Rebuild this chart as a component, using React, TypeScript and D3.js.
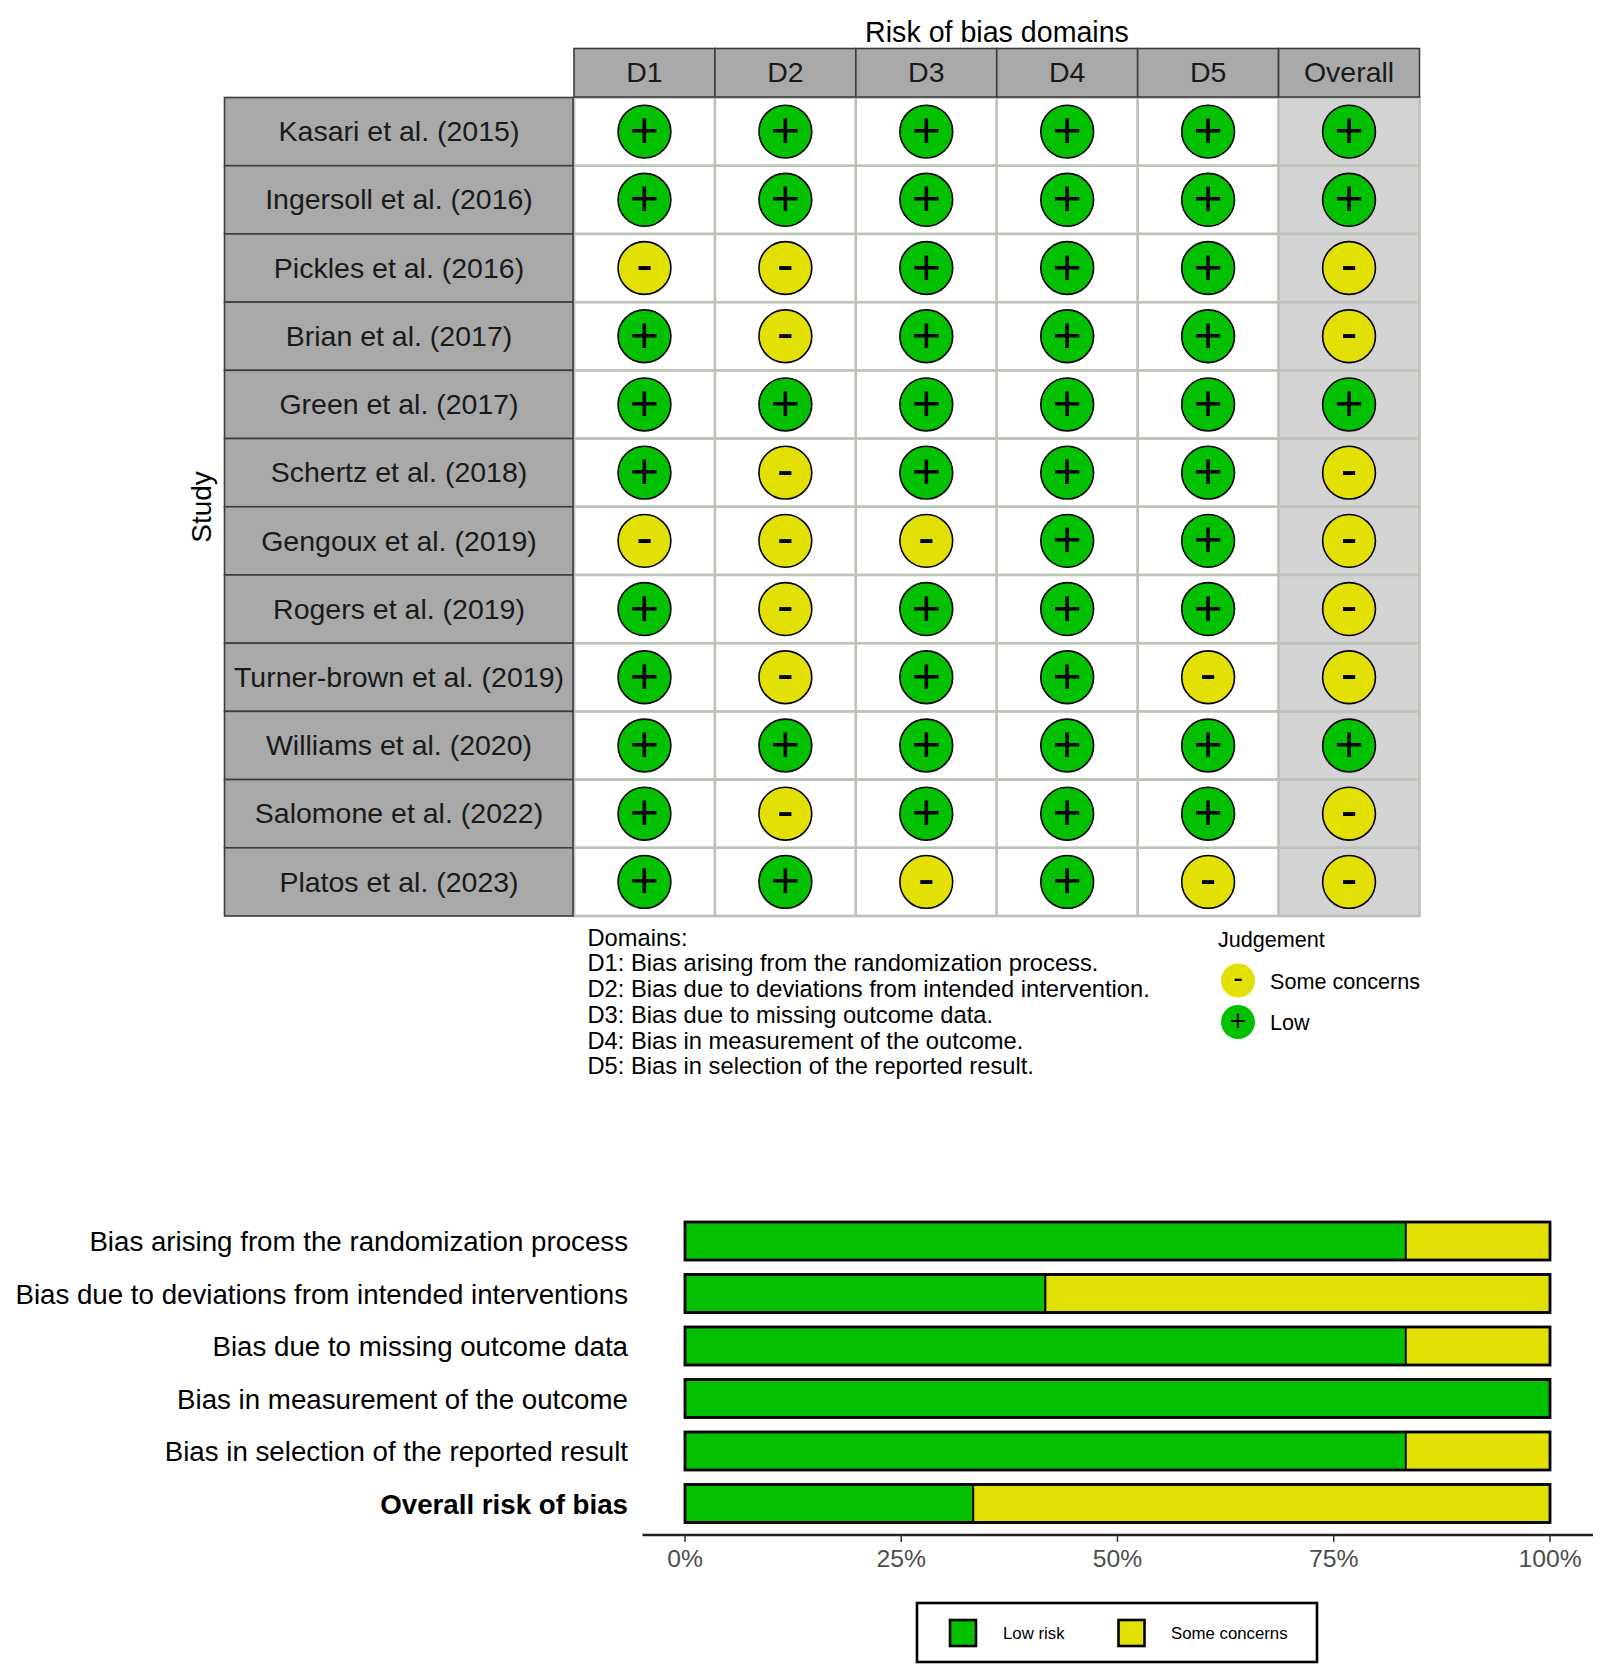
import * as d3 from 'd3';

const FONT = '"Liberation Sans", Arial, sans-serif';
const GREEN = '#03C000';
const YELLOW = '#E3E006';

// traffic light table
const domains = ['D1', 'D2', 'D3', 'D4', 'D5', 'Overall'];
const studies = [
    'Kasari et al. (2015)',
    'Ingersoll et al. (2016)',
    'Pickles et al. (2016)',
    'Brian et al. (2017)',
    'Green et al. (2017)',
    'Schertz et al. (2018)',
    'Gengoux et al. (2019)',
    'Rogers et al. (2019)',
    'Turner-brown et al. (2019)',
    'Williams et al. (2020)',
    'Salomone et al. (2022)',
    'Platos et al. (2023)',
];
// one string per study, one char per domain
const judgements = [
    '++++++',
    '++++++',
    '--+++-',
    '+-+++-',
    '++++++',
    '+-+++-',
    '---++-',
    '+-+++-',
    '+-++--',
    '++++++',
    '+-+++-',
    '++-+--',
];
const domainNotes = [
    'Domains:',
    'D1: Bias arising from the randomization process.',
    'D2: Bias due to deviations from intended intervention.',
    'D3: Bias due to missing outcome data.',
    'D4: Bias in measurement of the outcome.',
    'D5: Bias in selection of the reported result.',
];

// summary bars
const summaryLabels = [
    'Bias arising from the randomization process',
    'Bias due to deviations from intended interventions',
    'Bias due to missing outcome data',
    'Bias in measurement of the outcome',
    'Bias in selection of the reported result',
    'Overall risk of bias',
];
const lowRisk = [83.33, 41.67, 83.33, 100, 83.33, 33.33];
const someConcerns = [16.67, 58.33, 16.67, 0, 16.67, 66.67];
const pctTicks = [0, 25, 50, 75, 100];

const Symbol = ({ cx, cy, mark, size }: { cx: number; cy: number; mark: string; size: number }) => (
    <text
        x={cx}
        y={cy + (mark === '+' ? size * 0.31 : size * 0.26)}
        textAnchor="middle"
        fontSize={size}
        fill="#000"
    >
        {mark}
    </text>
);

const TrafficLight = () => {
    const xScale = d3.scaleBand().domain(domains).range([574, 1419.5]);
    const yScale = d3.scaleBand().domain(studies).range([97.5, 916]);
    const overallX = xScale('Overall') ?? 0;

    return (
        <g>
            <text x={997} y={42} textAnchor="middle" fontSize={28.6} fill="#000">
                Risk of bias domains
            </text>

            {/* panel */}
            <rect x={overallX} y={97.5} width={xScale.bandwidth()} height={818.5} fill="#D3D3D3" />
            {studies.map((s) => (
                <rect
                    key={s}
                    x={574}
                    y={yScale(s)}
                    width={845.5}
                    height={yScale.bandwidth()}
                    fill="none"
                    stroke="#BCC3B8"
                    strokeWidth={2.4}
                />
            ))}
            {domains.map((d) => (
                <rect
                    key={d}
                    x={xScale(d)}
                    y={97.5}
                    width={xScale.bandwidth()}
                    height={818.5}
                    fill="none"
                    stroke="#BCC3B8"
                    strokeWidth={2.4}
                />
            ))}

            {/* top strips */}
            {domains.map((d) => (
                <g key={d}>
                    <rect
                        x={xScale(d)}
                        y={48.5}
                        width={xScale.bandwidth()}
                        height={48.5}
                        fill="#A9A9A9"
                        stroke="#3C3C3C"
                        strokeWidth={1.6}
                    />
                    <text
                        x={(xScale(d) ?? 0) + xScale.bandwidth() / 2}
                        y={72.2}
                        dy="0.35em"
                        textAnchor="middle"
                        fontSize={28.5}
                        fill="#1A1A1A"
                    >
                        {d}
                    </text>
                </g>
            ))}

            {/* side strips */}
            {studies.map((s) => (
                <g key={s}>
                    <rect
                        x={224.5}
                        y={yScale(s)}
                        width={348.5}
                        height={yScale.bandwidth()}
                        fill="#A9A9A9"
                        stroke="#3C3C3C"
                        strokeWidth={1.6}
                    />
                    <text
                        x={399}
                        y={(yScale(s) ?? 0) + yScale.bandwidth() / 2 - 0.3}
                        dy="0.35em"
                        textAnchor="middle"
                        fontSize={28.5}
                        fill="#1A1A1A"
                    >
                        {s}
                    </text>
                </g>
            ))}

            <text
                transform="translate(201,507) rotate(-90)"
                dy="0.35em"
                textAnchor="middle"
                fontSize={28}
                fill="#000"
            >
                Study
            </text>

            {/* judgement points */}
            {studies.map((s, i) =>
                domains.map((d, j) => {
                    const mark = judgements[i][j];
                    const cx = (xScale(d) ?? 0) + xScale.bandwidth() / 2;
                    const cy = (yScale(s) ?? 0) + yScale.bandwidth() / 2;
                    return (
                        <g key={s + d}>
                            <circle
                                cx={cx}
                                cy={cy}
                                r={26.4}
                                fill={mark === '+' ? GREEN : YELLOW}
                                stroke="#000"
                                strokeWidth={1.6}
                            />
                            <Symbol cx={cx} cy={cy} mark={mark} size={50} />
                        </g>
                    );
                })
            )}

            {/* domain notes */}
            {domainNotes.map((line, i) => (
                <text key={line} x={587.5} y={937.5 + i * 25.7} dy="0.35em" fontSize={23.7} fill="#000">
                    {line}
                </text>
            ))}

            {/* judgement legend */}
            <text x={1218} y={939} dy="0.35em" fontSize={21.6} fill="#000">
                Judgement
            </text>
            <circle cx={1238} cy={980.5} r={17} fill={YELLOW} />
            <Symbol cx={1238} cy={980.5} mark="-" size={29} />
            <text x={1270} y={981} dy="0.35em" fontSize={21.6} fill="#000">
                Some concerns
            </text>
            <circle cx={1238} cy={1022} r={17} fill={GREEN} />
            <Symbol cx={1238} cy={1022} mark="+" size={29} />
            <text x={1270} y={1022} dy="0.35em" fontSize={21.6} fill="#000">
                Low
            </text>
        </g>
    );
};

const SummaryBars = () => {
    const xScale = d3.scaleLinear().domain([0, 100]).range([685, 1550]);
    const yScale = d3
        .scaleBand()
        .domain(summaryLabels)
        .range([1222, 1522.5])
        .paddingInner(0.276);
    const axisY = 1535;

    return (
        <g>
            {summaryLabels.map((label, i) => {
                const y = yScale(label) ?? 0;
                const h = yScale.bandwidth();
                return (
                    <g key={label}>
                        <text
                            x={628}
                            y={y + h / 2 + 0.5}
                            dy="0.35em"
                            textAnchor="end"
                            fontSize={27.7}
                            fontWeight={i === 5 ? 'bold' : 'normal'}
                            fill="#000"
                        >
                            {label}
                        </text>
                        <rect
                            x={xScale(0)}
                            y={y}
                            width={xScale(lowRisk[i]) - xScale(0)}
                            height={h}
                            fill={GREEN}
                            stroke="#000"
                            strokeWidth={1.8}
                        />
                        {someConcerns[i] > 0 && (
                            <rect
                                x={xScale(lowRisk[i])}
                                y={y}
                                width={xScale(lowRisk[i] + someConcerns[i]) - xScale(lowRisk[i])}
                                height={h}
                                fill={YELLOW}
                                stroke="#000"
                                strokeWidth={1.8}
                            />
                        )}
                        {/* heavier outer frame */}
                        <rect
                            x={xScale(0)}
                            y={y}
                            width={xScale(100) - xScale(0)}
                            height={h}
                            fill="none"
                            stroke="#000"
                            strokeWidth={2.8}
                        />
                    </g>
                );
            })}

            {/* x axis */}
            <line x1={642.5} x2={1593} y1={axisY} y2={axisY} stroke="#222" strokeWidth={2.6} />
            {pctTicks.map((t) => (
                <g key={t}>
                    <line x1={xScale(t)} x2={xScale(t)} y1={axisY} y2={axisY + 7} stroke="#333" strokeWidth={1.5} />
                    <text x={xScale(t)} y={1558} dy="0.35em" textAnchor="middle" fontSize={24.7} fill="#4D4D4D">
                        {t}%
                    </text>
                </g>
            ))}

            {/* legend */}
            <rect x={917} y={1603} width={400} height={59} fill="#fff" stroke="#000" strokeWidth={2.6} />
            <rect x={950} y={1620} width={26} height={26} fill={GREEN} stroke="#000" strokeWidth={2.6} />
            <text x={1003} y={1633} dy="0.35em" fontSize={16.8} fill="#000">
                Low risk
            </text>
            <rect x={1118.5} y={1620} width={26} height={26} fill={YELLOW} stroke="#000" strokeWidth={2.6} />
            <text x={1171} y={1633} dy="0.35em" fontSize={16.8} fill="#000">
                Some concerns
            </text>
        </g>
    );
};

export default function App() {
    return (
        <svg
            width={1607}
            height={1678}
            style={{ position: 'absolute', left: 0, top: 0, display: 'block', background: '#fff' }}
            fontFamily={FONT}
        >
            <TrafficLight />
            <SummaryBars />
        </svg>
    );
}
